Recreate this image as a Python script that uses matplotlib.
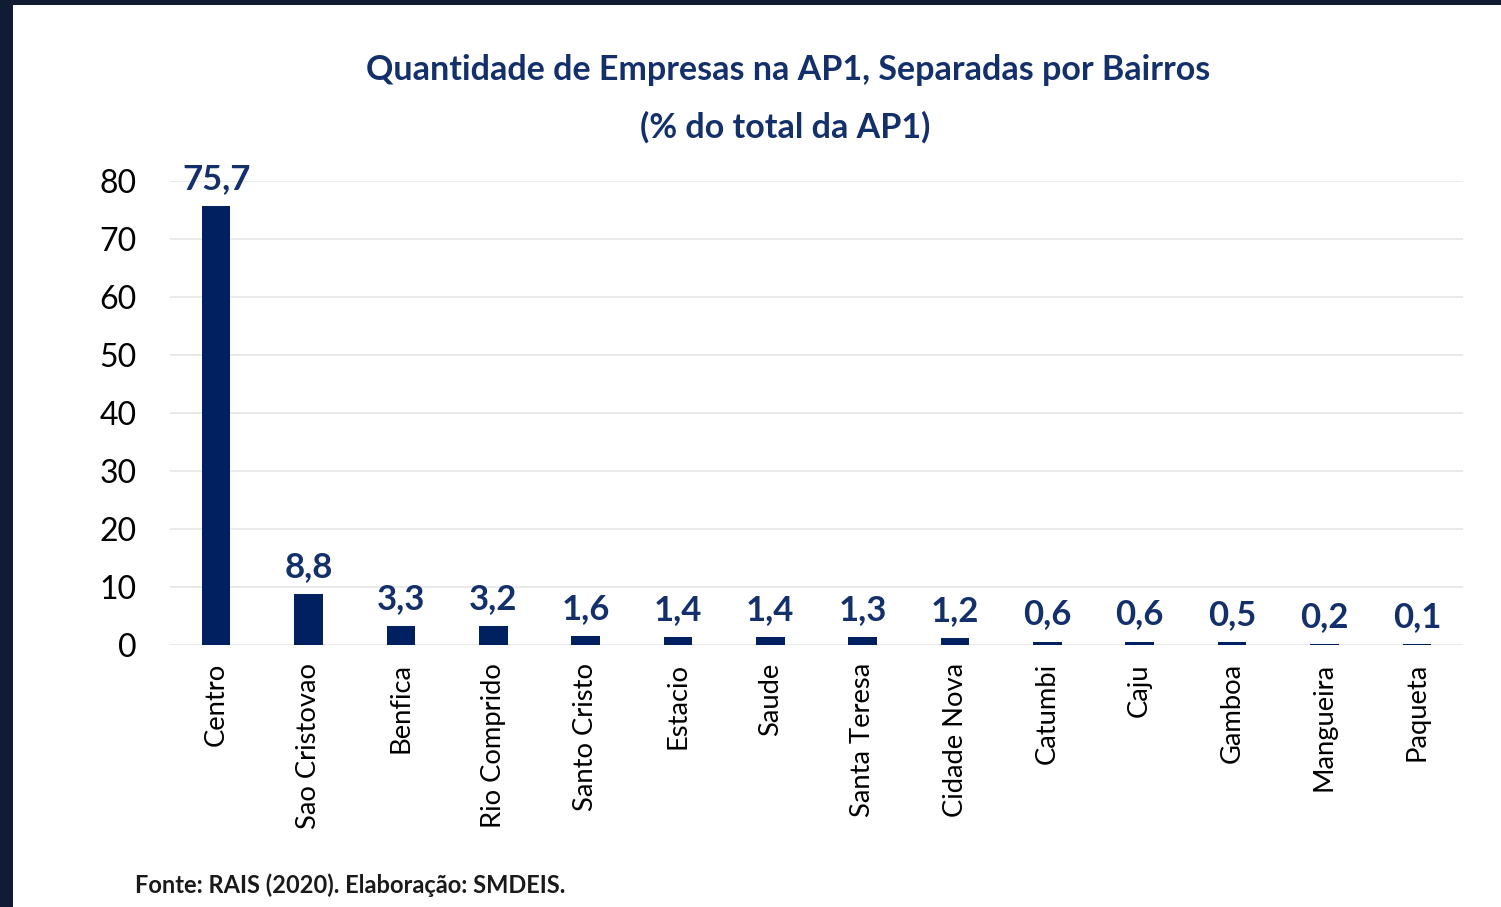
import matplotlib
matplotlib.use("Agg")
import matplotlib.pyplot as plt
from matplotlib.patches import Rectangle

categories = ["Centro", "Sao Cristovao", "Benfica", "Rio Comprido", "Santo Cristo",
              "Estacio", "Saude", "Santa Teresa", "Cidade Nova", "Catumbi", "Caju",
              "Gamboa", "Mangueira", "Paqueta"]
values = [75.7, 8.8, 3.3, 3.2, 1.6, 1.4, 1.4, 1.3, 1.2, 0.6, 0.6, 0.5, 0.2, 0.1]
yticks = [0, 10, 20, 30, 40, 50, 60, 70, 80]

W, H = 1501, 907
fig = plt.figure(figsize=(W / 100, H / 100), dpi=100)
fig.patch.set_facecolor("white")

# dark frame on top and left
fig.patches.append(Rectangle((0, 1 - 5 / H), 1, 5 / H, transform=fig.transFigure,
                             facecolor="#111c33", edgecolor="none", zorder=10))
fig.patches.append(Rectangle((0, 0), 13 / W, 1, transform=fig.transFigure,
                             facecolor="#111c33", edgecolor="none", zorder=10))

navy = "#002060"
font = "Lato"

ax = fig.add_axes([170 / W, 1 - 645 / H, (1463 - 170) / W, (645 - 181) / H])
x = list(range(len(categories)))
ax.bar(x, values, width=0.31, color=navy, zorder=3)
ax.set_xlim(-0.5, len(categories) - 0.5)
ax.set_ylim(0, 80)
ax.set_yticks(yticks)
ax.set_yticklabels([str(t) for t in yticks], fontsize=23, family=font, color="black")
ax.set_xticks(x)
ax.set_xticklabels(categories, rotation=90, fontsize=19.7, family=font, color="black")
ax.tick_params(axis="both", length=0)
ax.tick_params(axis="y", pad=24)
ax.tick_params(axis="x", pad=13)
for s in ax.spines.values():
    s.set_visible(False)
ax.grid(axis="y", color="#e6e6e6", linewidth=1.2, zorder=0)
ax.set_axisbelow(True)

for xi, v in zip(x, values):
    ax.annotate(f"{v:.1f}".replace(".", ","), (xi, v), xytext=(0, 8),
                textcoords="offset points", ha="center", va="bottom",
                fontsize=25, fontweight="bold", family=font, color="#13306b")

fig.text(788 / W, 1 - 70 / H, "Quantidade de Empresas na AP1, Separadas por Bairros",
         ha="center", va="center", fontsize=24.5, fontweight="bold", family=font, color="#13306b")
fig.text(785 / W, 1 - 127 / H, "(% do total da AP1)",
         ha="center", va="center", fontsize=24.5, fontweight="bold", family=font, color="#13306b")

fig.text(135 / W, 1 - 885 / H, "Fonte: RAIS (2020). Elaboração: SMDEIS.",
         ha="left", va="center", fontsize=17, fontweight="bold", family=font, color="#1a1a1a")

fig.savefig("out.png", dpi=100, facecolor="white")
